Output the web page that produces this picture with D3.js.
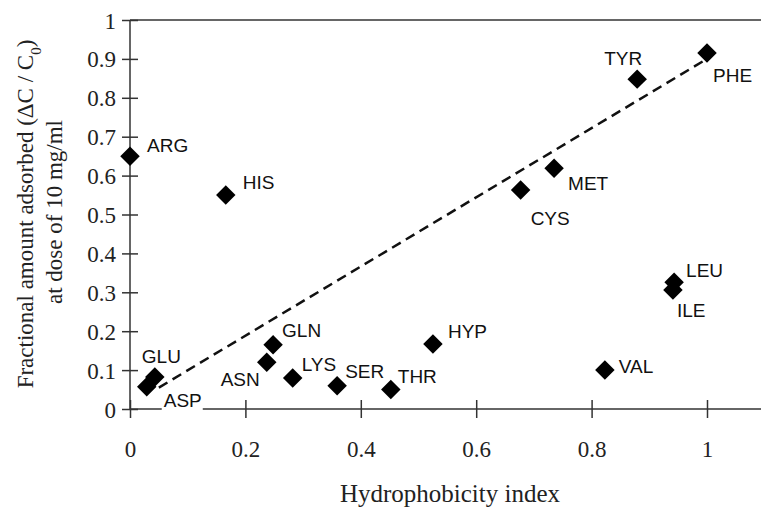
<!DOCTYPE html>
<html>
<head>
<meta charset="utf-8">
<script src="https://cdn.jsdelivr.net/npm/d3@7"></script>
<style>
  body { margin: 0; background: #fff; }
  svg { display: block; }
</style>
</head>
<body>
<script>
// amino acids
const aminoAcids = ["ARG", "HIS", "GLU", "ASP", "ASN", "GLN", "LYS", "SER", "THR",
                    "HYP", "CYS", "MET", "TYR", "PHE", "LEU", "ILE", "VAL"];
const hydrophobicity = [0, 0.166, 0.043, 0.029, 0.237, 0.248, 0.282, 0.359, 0.452,
                        0.525, 0.677, 0.735, 0.879, 1.0, 0.943, 0.941, 0.823];
const adsorbed = [0.65, 0.55, 0.082, 0.057, 0.12, 0.165, 0.08, 0.06, 0.05,
                  0.167, 0.563, 0.619, 0.848, 0.915, 0.326, 0.306, 0.10];

// dashed trend line end points
const trendX = [0.05, 1.0];
const trendY = [0.055, 0.9];

const xTicks = [0, 0.2, 0.4, 0.6, 0.8, 1];
const yTicks = [0, 0.1, 0.2, 0.3, 0.4, 0.5, 0.6, 0.7, 0.8, 0.9, 1];

// where each label sits relative to its marker (layout only)
const labelPlace = {
  ARG: [17, -4, "start"], HIS: [17, -6, "start"], GLU: [-13, -14, "start"],
  ASP: [17, 20, "start"], ASN: [-7, 24, "end"], GLN: [9, -8, "start"],
  LYS: [9, -7, "start"], SER: [8, -8, "start"], THR: [7, -7, "start"],
  HYP: [15, -6, "start"], CYS: [10, 35, "start"], MET: [14, 22, "start"],
  TYR: [5, -14, "end"], PHE: [6, 29, "start"], LEU: [12, -5, "start"],
  ILE: [4, 27, "start"], VAL: [14, 3, "start"]
};

const data = aminoAcids.map((name, i) => ({ name, x: hydrophobicity[i], y: adsorbed[i] }));

const width = 761, height = 508;
const serif = "'Liberation Serif', 'Times New Roman', serif";
const sans = "'Liberation Sans', Arial, sans-serif";

const svg = d3.select("body").append("svg")
    .attr("width", width)
    .attr("height", height);

const x = d3.scaleLinear().domain([0, 1.1]).range([130, 764.7]);
const y = d3.scaleLinear().domain([0, 1]).range([409, 20]);

const axisColor = "#333";

// frame: top line and x axis run to the right edge
svg.append("line")
    .attr("x1", x(0)).attr("x2", width)
    .attr("y1", y(1)).attr("y2", y(1))
    .attr("stroke", axisColor).attr("stroke-width", 1.5);

// x axis
const xAxis = svg.append("g")
    .attr("transform", `translate(0,${y(0)})`)
    .call(d3.axisBottom(x).tickValues(xTicks).tickSize(9).tickFormat(d3.format("~g")));
xAxis.select(".domain").remove();
xAxis.append("line")
    .attr("x1", x(0)).attr("x2", width)
    .attr("stroke", axisColor).attr("stroke-width", 1.5);
xAxis.selectAll(".tick line")
    .attr("y1", -9).attr("y2", 9)
    .attr("stroke", axisColor).attr("stroke-width", 1.5);
xAxis.selectAll(".tick text")
    .attr("y", 48).attr("dy", null)
    .attr("font-family", serif).attr("font-size", 23).attr("fill", "#222");

// y axis
const yAxis = svg.append("g")
    .attr("transform", `translate(${x(0)},0)`)
    .call(d3.axisLeft(y).tickValues(yTicks).tickSize(8).tickFormat(d3.format("~g")));
yAxis.select(".domain")
    .attr("d", `M0,${y(0)}V${y(1)}`)
    .attr("stroke", axisColor).attr("stroke-width", 1.5);
yAxis.selectAll(".tick line")
    .attr("x1", -8).attr("x2", 8)
    .attr("stroke", axisColor).attr("stroke-width", 1.5);
yAxis.selectAll(".tick text")
    .attr("x", -14).attr("dy", 8)
    .attr("font-family", serif).attr("font-size", 23).attr("fill", "#222");

// axis titles
svg.append("text")
    .attr("x", 450).attr("y", 502)
    .attr("text-anchor", "middle")
    .attr("font-family", serif).attr("font-size", 25).attr("fill", "#222")
    .text("Hydrophobicity index");

const yTitle = svg.append("text")
    .attr("transform", "translate(33,214) rotate(-90)")
    .attr("text-anchor", "middle")
    .attr("font-family", serif).attr("font-size", 23).attr("fill", "#222");
yTitle.append("tspan").text("Fractional amount adsorbed (\u0394C / C");
yTitle.append("tspan").attr("baseline-shift", "sub").attr("font-size", 15).text("0");
yTitle.append("tspan").text(")");

svg.append("text")
    .attr("transform", "translate(62,212) rotate(-90)")
    .attr("text-anchor", "middle")
    .attr("font-family", serif).attr("font-size", 23).attr("fill", "#222")
    .text("at dose of 10 mg/ml");

// labels, each on a white box
const labels = svg.append("g");
data.forEach(d => {
  const [dx, dy, anchor] = labelPlace[d.name];
  const t = labels.append("text")
      .attr("x", x(d.x) + dx)
      .attr("y", y(d.y) + dy)
      .attr("text-anchor", anchor)
      .attr("font-family", sans).attr("font-size", 19).attr("fill", "#111")
      .text(d.name);
  const b = t.node().getBBox();
  labels.insert("rect", "text")
      .attr("x", b.x - 2).attr("y", b.y + 2)
      .attr("width", b.width + 3).attr("height", b.height - 2)
      .attr("fill", "#fff");
});

// trend line
svg.append("path")
    .datum(trendX.map((v, i) => [v, trendY[i]]))
    .attr("d", d3.line().x(d => x(d[0])).y(d => y(d[1])))
    .attr("fill", "none")
    .attr("stroke", "#111")
    .attr("stroke-width", 2.5)
    .attr("stroke-dasharray", "10,6");

// diamond markers
svg.append("g").selectAll("path")
    .data(data)
  .enter().append("path")
    .attr("transform", d => `translate(${x(d.x)},${y(d.y)}) rotate(45)`)
    .attr("d", d3.symbol().type(d3.symbolSquare).size(190))
    .attr("fill", "#000");
</script>
</body>
</html>
